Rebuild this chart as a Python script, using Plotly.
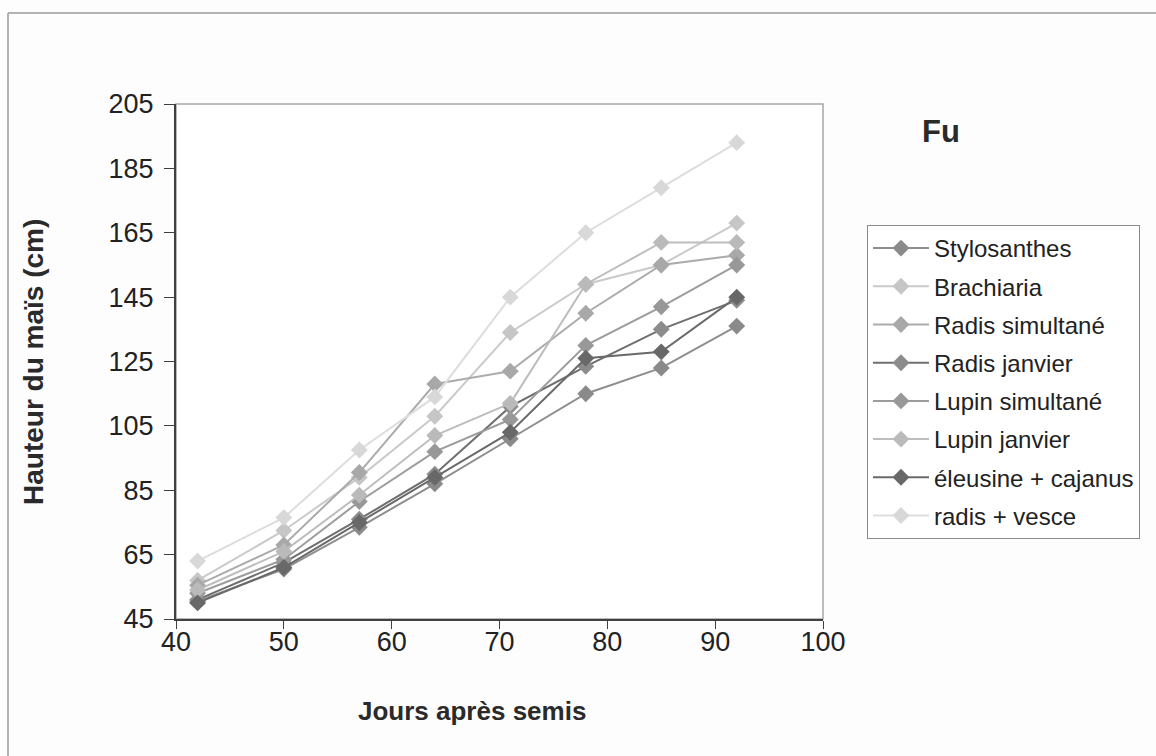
import plotly.graph_objects as go

# Days after sowing
jours = [42, 50, 57, 64, 71, 78, 85, 92]

# Maize height (cm) for each cover-crop treatment
stylosanthes = [50.5, 60.5, 73.5, 87, 101, 115, 123, 136]
brachiaria = [57, 72.5, 89, 108, 134, 149, 155, 168]
radis_simultane = [55.5, 68, 90.5, 118, 122, 140, 155, 158]
radis_janvier = [51, 62.5, 76, 90, 111, 123.5, 135, 144]
lupin_simultane = [53, 63.5, 81.5, 97, 107, 130, 142, 155]
lupin_janvier = [54, 66, 83.5, 102, 112, 149, 162, 162]
eleusine_cajanus = [50, 61, 75, 89, 103, 126, 128, 145]
radis_vesce = [63, 76.5, 97.5, 114, 145, 165, 179, 193]

noms = ["Stylosanthes", "Brachiaria", "Radis simultané", "Radis janvier",
        "Lupin simultané", "Lupin janvier", "éleusine + cajanus", "radis + vesce"]
valeurs = [stylosanthes, brachiaria, radis_simultane, radis_janvier,
           lupin_simultane, lupin_janvier, eleusine_cajanus, radis_vesce]
lignes = ["#8e8e8e", "#cacaca", "#ababab", "#6e6e6e",
          "#9c9c9c", "#bdbdbd", "#6a6a6a", "#dddddd"]
marqueurs = ["#8a8a8a", "#c6c6c6", "#a8a8a8", "#8c8c8c",
             "#989898", "#bababa", "#686868", "#d8d8d8"]

fig = go.Figure()
for i, (nom, y) in enumerate(zip(noms, valeurs)):
    fig.add_trace(go.Scatter(
        x=jours, y=y, name=nom, mode="lines+markers",
        legendgroup=str(i),
        line=dict(color=lignes[i], width=2),
        marker=dict(symbol="diamond", size=13, color=marqueurs[i]),
    ))

# plot area in pixels: x 176..823, y 104..619
L, R, T, B = 176, 823, 104, 619
W, H = 1156, 756


def px(xp):
    return (xp - L) / (R - L)


def py(yp):
    return (B - yp) / (B - T)


tick_font = dict(family="Liberation Sans, Arial, sans-serif", size=27, color="#222222")

fig.update_layout(
    width=W, height=H,
    margin=dict(l=L, r=W - R, t=T, b=H - B),
    paper_bgcolor="#fdfdfd",
    plot_bgcolor="#ffffff",
    showlegend=True,
    legend=dict(
        x=px(867), y=py(225), xanchor="left", yanchor="top",
        bgcolor="#ffffff", bordercolor="#8a8a8a", borderwidth=1,
        font=dict(family="Liberation Sans, Arial, sans-serif", size=24, color="#222222"),
        itemwidth=56, tracegroupgap=4, traceorder="grouped",
    ),
    xaxis=dict(
        range=[40, 100], tick0=40, dtick=10,
        showgrid=False, zeroline=False,
        showline=True, linecolor="#404040", linewidth=2,
        ticks="outside", ticklen=8, tickcolor="#404040", tickwidth=1,
        tickfont=tick_font, ticklabelstandoff=-10,
    ),
    yaxis=dict(
        range=[45, 205], tick0=45, dtick=20,
        showgrid=False, zeroline=False,
        showline=True, linecolor="#404040", linewidth=2,
        ticks="outside", ticklen=10, tickcolor="#404040", tickwidth=1,
        tickfont=tick_font, ticklabelstandoff=5,
    ),
    shapes=[
        # plot area border
        dict(type="rect", xref="paper", yref="paper", x0=0, x1=1, y0=0, y1=1,
             line=dict(color="#a5a5a5", width=1.5), layer="below"),
        # chart frame
        dict(type="line", xref="paper", yref="paper", x0=px(8), x1=px(1156),
             y0=py(13), y1=py(13), line=dict(color="#9a9a9a", width=1.5)),
        dict(type="line", xref="paper", yref="paper", x0=px(8), x1=px(8),
             y0=py(13), y1=py(756), line=dict(color="#9a9a9a", width=1.5)),
    ],
    annotations=[
        dict(text="<b>Hauteur du maïs (cm)</b>", xref="paper", yref="paper",
             x=px(33), y=py(362), textangle=-90, showarrow=False,
             xanchor="center", yanchor="middle",
             font=dict(family="Liberation Sans, Arial, sans-serif", size=28, color="#2a2a2a")),
        dict(text="<b>Jours après semis</b>", xref="paper", yref="paper",
             x=px(472), y=py(711), showarrow=False,
             xanchor="center", yanchor="middle",
             font=dict(family="Liberation Sans, Arial, sans-serif", size=26, color="#2a2a2a")),
        dict(text="<b>Fu</b>", xref="paper", yref="paper",
             x=px(941), y=py(131), showarrow=False,
             xanchor="center", yanchor="middle",
             font=dict(family="Liberation Sans, Arial, sans-serif", size=31, color="#2a2a2a")),
    ],
)

fig.write_html("out.html")
